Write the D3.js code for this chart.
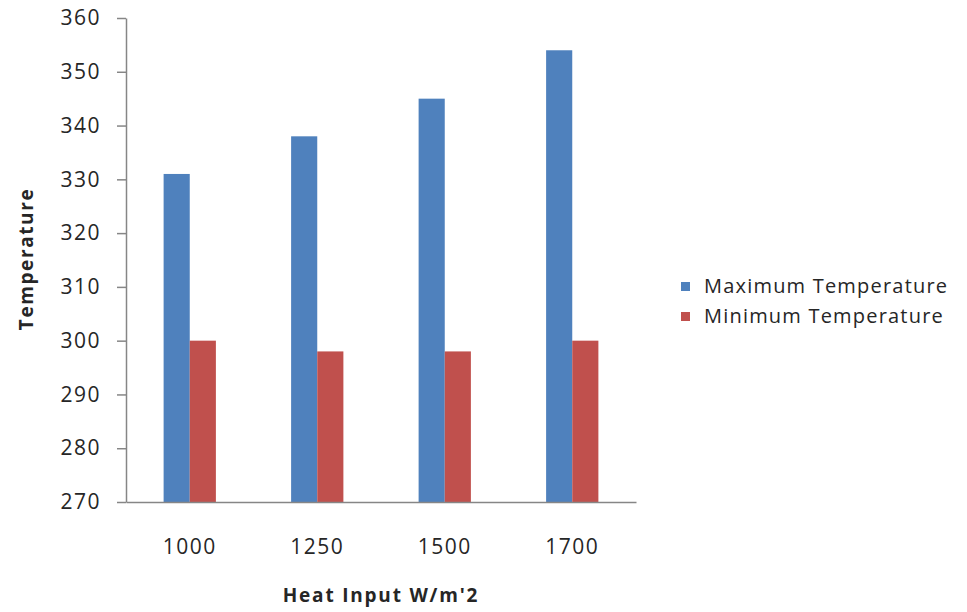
<!DOCTYPE html>
<html>
<head>
<meta charset="utf-8">
<script src="https://cdn.jsdelivr.net/npm/d3@7"></script>
<style>
  html, body { margin: 0; padding: 0; background: #fff; }
  svg { display: block; }
  text { font-family: "Open Sans", "Segoe UI", sans-serif; fill: #262626; }
</style>
</head>
<body>
<svg id="chart" width="967" height="612"></svg>
<script>
// Heat input categories and temperature results
const categories = ["1000", "1250", "1500", "1700"];
const maxTemperature = [331, 338, 345, 354];
const minTemperature = [300, 298, 298, 300];
const seriesNames = ["Maximum Temperature", "Minimum Temperature"];
const seriesColors = ["#4F81BD", "#C0504D"];
const yTicks = [270, 280, 290, 300, 310, 320, 330, 340, 350, 360];

const series = [maxTemperature, minTemperature];

const svg = d3.select("#chart");
const plot = { left: 126, right: 636, top: 18, bottom: 502 };

const x = d3.scaleBand()
  .domain(categories)
  .range([plot.left, plot.right])
  .paddingInner(0.59)
  .paddingOuter(0.295);

const xSub = d3.scaleBand()
  .domain(d3.range(series.length))
  .range([0, x.bandwidth()]);

const y = d3.scaleLinear()
  .domain([270, 360])
  .range([plot.bottom, plot.top]);

// Bars
series.forEach((vals, si) => {
  svg.append("g")
    .selectAll("rect")
    .data(vals)
    .join("rect")
    .attr("x", (d, i) => x(categories[i]) + xSub(si))
    .attr("y", d => y(d))
    .attr("width", xSub.bandwidth())
    .attr("height", d => y(270) - y(d))
    .attr("fill", seriesColors[si]);
});

// Y axis
const yAxis = svg.append("g")
  .attr("transform", `translate(${plot.left},0)`)
  .call(d3.axisLeft(y).tickValues(yTicks).tickSize(9).tickPadding(16).tickSizeOuter(0));
yAxis.select(".domain").attr("stroke", "#868686").attr("stroke-width", 1.5);
yAxis.selectAll(".tick line").attr("stroke", "#868686").attr("stroke-width", 1.5);
yAxis.selectAll(".tick text")
  .attr("font-size", 21)
  .attr("letter-spacing", 1.5)
  .style("fill", "#262626")
  .attr("font-family", "'Open Sans', sans-serif");

// X axis
const xAxis = svg.append("g")
  .attr("transform", `translate(0,${plot.bottom})`)
  .call(d3.axisBottom(x).tickSize(0).tickPadding(37).tickSizeOuter(0));
xAxis.select(".domain").attr("stroke", "#868686").attr("stroke-width", 1.5);
xAxis.selectAll(".tick text")
  .attr("font-size", 21)
  .attr("letter-spacing", 1.5)
  .style("fill", "#262626")
  .attr("font-family", "'Open Sans', sans-serif");

// Axis titles
svg.append("text")
  .attr("transform", `translate(33,259) rotate(-90)`)
  .attr("text-anchor", "middle")
  .attr("font-size", 19)
  .attr("letter-spacing", 1.6)
  .attr("font-weight", "bold")
  .text("Temperature");

svg.append("text")
  .attr("x", 381)
  .attr("y", 602)
  .attr("text-anchor", "middle")
  .attr("font-size", 19)
  .attr("letter-spacing", 1.8)
  .attr("font-weight", "bold")
  .text("Heat Input W/m'2");

// Legend
const legend = svg.append("g").attr("transform", "translate(681,282)");
seriesNames.forEach((name, i) => {
  const row = legend.append("g").attr("transform", `translate(0,${i * 30})`);
  row.append("rect")
    .attr("width", 9).attr("height", 9)
    .attr("fill", seriesColors[i]);
  row.append("text")
    .attr("x", 23).attr("y", 11)
    .attr("font-size", 20)
    .attr("letter-spacing", 1.2)
    .text(name);
});
</script>
</body>
</html>
